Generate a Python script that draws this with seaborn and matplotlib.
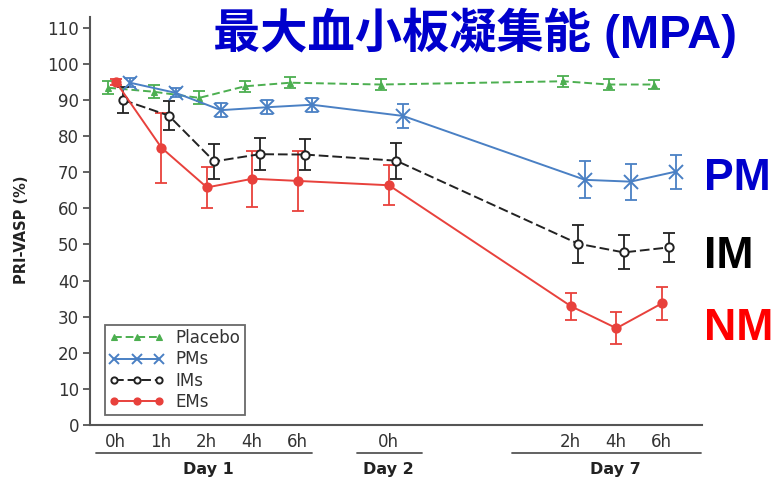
import matplotlib
matplotlib.use("Agg")
import matplotlib.pyplot as plt
import matplotlib.transforms as mtransforms
import seaborn as sns
import pandas as pd

# time points (slot index on x), tick labels and day groups
slots = [0, 1, 2, 3, 4, 6, 10, 11, 12]
time_labels = ['0h', '1h', '2h', '4h', '6h', '0h', '2h', '4h', '6h']
day_labels = ['Day 1', 'Day 2', 'Day 7']
day_spans = [(-0.26, 4.48), (5.47, 6.9), (8.88, 13.03)]

# PRI-VASP (%) per group, mean and error
placebo = [93.4, 92.3, 90.6, 93.8, 94.8, 94.3, 95.2, 94.3, 94.3]
placebo_err = [1.8, 1.8, 1.8, 1.6, 1.5, 1.5, 1.5, 1.5, 1.3]
pms = [94.8, 92.0, 87.2, 88.0, 88.7, 85.6, 67.9, 67.4, 70.2]
pms_err = [1.2, 1.2, 2.0, 2.0, 2.0, 3.3, 5.1, 5.0, 4.7]
ims = [90.0, 85.7, 73.0, 75.0, 74.9, 73.2, 50.2, 47.8, 49.2]
ims_err = [3.7, 4.1, 4.8, 4.5, 4.3, 5.0, 5.2, 4.7, 4.0]
ems = [95.0, 76.8, 65.8, 68.2, 67.6, 66.4, 32.9, 26.8, 33.7]
ems_err = [0.8, 9.7, 5.7, 7.7, 8.4, 5.5, 3.7, 4.4, 4.6]

sns.set_style("white")
plt.rcParams['font.family'] = ['DejaVu Sans', 'Noto Sans CJK JP']

fig = plt.figure(figsize=(7.74, 4.82), dpi=100)
ax = fig.add_axes([90 / 774, 1 - 425 / 482, 612 / 774, 408 / 482])

series = [
    # name, values, errors, x offset, color, marker, linestyle, markersize, face
    ('Placebo', placebo, placebo_err, 0.0, '#4caf50', '^', (0, (4, 2)), 5, '#4caf50'),
    ('PMs', pms, pms_err, 0.48, '#4a80c4', 'x', '-', 10, '#4a80c4'),
    ('IMs', ims, ims_err, 0.33, '#222222', 'o', (0, (5, 2)), 6, 'white'),
    ('EMs', ems, ems_err, 0.17, '#e8413c', 'o', '-', 6, '#e8413c'),
]

for name, vals, errs, off, col, mk, ls, ms, face in series:
    df = pd.DataFrame({'x': [s + off for s in slots], 'y': vals})
    ax.errorbar(df['x'], df['y'], yerr=errs, fmt='none', ecolor=col,
                elinewidth=1.3, capsize=4, capthick=1.3, zorder=2)
    sns.lineplot(data=df, x='x', y='y', ax=ax, color=col, marker=mk,
                 linestyle=ls, linewidth=1.4, markersize=ms,
                 markerfacecolor=face, markeredgecolor=col,
                 markeredgewidth=1.4 if mk != '^' else 0.8,
                 label=name, zorder=3)

ax.set_xlim(-0.4, 13.05)
ax.set_ylim(0, 113)
ax.set_yticks(range(0, 111, 10))
ax.set_xticks([s + 0.15 for s in slots])
ax.set_xticklabels(time_labels)
ax.set_xlabel('')
ax.set_ylabel('')
for side in ['top', 'right']:
    ax.spines[side].set_visible(False)
for side in ['left', 'bottom']:
    ax.spines[side].set_color('#555555')
    ax.spines[side].set_linewidth(1.5)
ax.tick_params(axis='y', length=5, width=1.3, color='#555555',
               labelsize=12, labelcolor='#333333', pad=3, left=True)
ax.tick_params(axis='x', length=0, labelsize=12, labelcolor='#333333', pad=6)

# day group underlines and labels
trans = mtransforms.blended_transform_factory(ax.transData, ax.transAxes)
for lab, (a, b) in zip(day_labels, day_spans):
    ax.plot([a, b], [-0.069, -0.069], transform=trans, color='#555555',
            linewidth=1.3, clip_on=False)
centers = {'Day 1': 2.2, 'Day 2': 6.15, 'Day 7': 11.15}
for lab in day_labels:
    ax.text(centers[lab], -0.108, lab, transform=trans, ha='center', va='center',
            fontsize=11.5, fontweight='bold', color='#222222')

fig.text(22 / 774, 1 - 230 / 482, 'PRI-VASP (%)', rotation=90, ha='center',
         va='center', fontsize=10.5, fontweight='bold', color='#222222')

leg = ax.legend(loc='upper left', bbox_to_anchor=(105 / 774, 1 - 325 / 482),
                bbox_transform=fig.transFigure, borderaxespad=0, numpoints=3,
                fontsize=12, labelspacing=0.2, handlelength=3.3,
                handletextpad=0.7, borderpad=0.25, fancybox=False,
                frameon=True, edgecolor='#444444', markerscale=0.75)
leg.get_frame().set_linewidth(1.3)
for t in leg.get_texts():
    t.set_color('#333333')

# overlay annotations
fig.text(213 / 774, 1 - 33 / 482, '最大血小板凝集能 (MPA)', ha='left', va='center',
         fontsize=34, fontweight='bold', color='#0000cc',
         family=['Liberation Sans', 'Noto Sans CJK JP'])
for txt, y, col in [('PM', 178, '#0000cc'), ('IM', 257, '#000000'), ('NM', 328, '#ff0000')]:
    fig.text(704 / 774, 1 - y / 482, txt, ha='left', va='center', fontsize=32,
             fontweight='bold', color=col, family=['Liberation Sans'])

fig.savefig('out.png', dpi=100)
